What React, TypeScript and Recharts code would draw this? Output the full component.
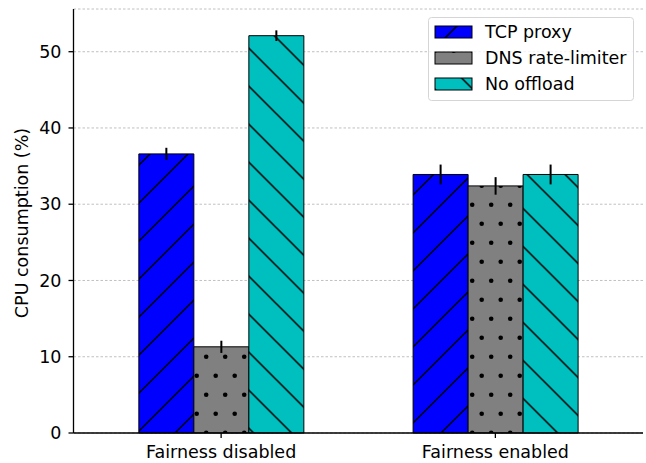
import React from 'react';
import { BarChart, Bar, XAxis, YAxis, CartesianGrid, ErrorBar, Legend } from 'recharts';

const categories = ['Fairness disabled', 'Fairness enabled'];
const tcpProxy = [36.6, 33.9];
const tcpProxyErr = [0.8, 1.3];
const dnsLimiter = [11.3, 32.4];
const dnsLimiterErr = [0.8, 1.15];
const noOffload = [52.1, 33.9];
const noOffloadErr = [0.7, 1.3];
const yTicks = [0, 10, 20, 30, 40, 50];

const seriesInfo = [
  { key: 'tcp', name: 'TCP proxy', fill: 'url(#hatchTcp)' },
  { key: 'dns', name: 'DNS rate-limiter', fill: 'url(#hatchDns)' },
  { key: 'none', name: 'No offload', fill: 'url(#hatchNone)' },
];

const chartData = categories.map((category, i) => ({
  category,
  tcp: tcpProxy[i],
  tcpErr: tcpProxyErr[i],
  dns: dnsLimiter[i],
  dnsErr: dnsLimiterErr[i],
  none: noOffload[i],
  noneErr: noOffloadErr[i],
}));

const FONT = '"DejaVu Sans", sans-serif';
const FS = 17.5;

const Patterns = () => (
  <defs>
    <pattern id="hatchTcp" patternUnits="userSpaceOnUse" width={38} height={38}>
      <rect width={38} height={38} fill="#0000ff" />
      <path d="M0,38 L38,0 M-3,3 L3,-3 M35,41 L41,35" stroke="#000" strokeWidth={1.5} />
    </pattern>
    <pattern id="hatchDns" patternUnits="userSpaceOnUse" width={19} height={38}>
      <rect width={19} height={38} fill="#808080" />
      <circle cx={16.2} cy={14.8} r={2.3} fill="#000" />
      <circle cx={6.7} cy={33.8} r={2.3} fill="#000" />
    </pattern>
    <pattern id="hatchNone" patternUnits="userSpaceOnUse" x={10.6} width={38} height={38}>
      <rect width={38} height={38} fill="#00bfbf" />
      <path d="M0,0 L38,38 M-3,35 L3,41 M35,-3 L41,3" stroke="#000" strokeWidth={1.5} />
    </pattern>
  </defs>
);

const XTick = ({ x, y, payload }: any) => (
  <text x={x} y={y} dy={17.5} textAnchor="middle" fill="#000" fontSize={FS} fontFamily={FONT}>
    {payload.value}
  </text>
);

const YTick = ({ x, y, payload }: any) => (
  <text x={x} y={y} dy={6.2} textAnchor="end" fill="#000" fontSize={FS} fontFamily={FONT}>
    {payload.value}
  </text>
);

const YLabel = ({ viewBox }: any) => {
  const cy = viewBox.y + viewBox.height / 2 + 2;
  return (
    <text
      transform={`translate(28, ${cy}) rotate(-90)`}
      textAnchor="middle"
      fill="#000"
      fontSize={FS}
      fontFamily={FONT}
    >
      CPU consumption (%)
    </text>
  );
};

const LegendBox = () => (
  <svg width={207} height={85} style={{ display: 'block' }}>
    <rect x={0.5} y={0.5} width={205} height={83} rx={3} fill="#fff" fillOpacity={0.8} stroke="#d5d5d5" />
    {seriesInfo.map((s, i) => {
      const cy = 15 + i * 26;
      return (
        <g key={s.key}>
          <rect x={7} y={cy - 6} width={37} height={12} fill={s.fill} stroke="#000" strokeWidth={1} />
          <text x={57} y={cy + 6} fontSize={FS} fontFamily={FONT} fill="#000">
            {s.name}
          </text>
        </g>
      );
    })}
  </svg>
);

export default function App() {
  return (
    <div style={{ position: 'absolute', left: 0, top: 0, width: 646, height: 463, background: '#fff' }}>
      <BarChart
        width={646}
        height={463}
        data={chartData}
        margin={{ top: 9, right: 3, left: 0, bottom: 0 }}
        barCategoryGap="20%"
        barGap={0}
      >
        <Patterns />
        <XAxis
          dataKey="category"
          height={30}
          padding={{ left: 10.5, right: 10.5 }}
          tick={<XTick />}
          tickSize={5}
          axisLine={{ stroke: '#000', strokeWidth: 1.3 }}
          tickLine={{ stroke: '#000', strokeWidth: 1.3 }}
        />
        <YAxis
          width={73.5}
          domain={[0, 55.6]}
          ticks={yTicks}
          tick={<YTick />}
          tickSize={5}
          tickMargin={7}
          axisLine={{ stroke: '#000', strokeWidth: 1.3 }}
          tickLine={{ stroke: '#000', strokeWidth: 1.3 }}
          label={<YLabel />}
        />
        {seriesInfo.map((s) => (
          <Bar
            key={s.key}
            dataKey={s.key}
            name={s.name}
            fill={s.fill}
            stroke="#000"
            strokeWidth={1}
            isAnimationActive={false}
          >
            <ErrorBar dataKey={`${s.key}Err`} width={0} stroke="#000" strokeWidth={2} direction="y" />
          </Bar>
        ))}
        <CartesianGrid vertical={false} stroke="#b0b0b0" strokeWidth={0.8} strokeDasharray="2.5 2" />
        <Legend
          layout="horizontal"
          verticalAlign="middle"
          align="center"
          content={<LegendBox />}
          wrapperStyle={{ position: 'absolute', left: 428, top: 17, width: 207, height: 85 }}
        />
      </BarChart>
    </div>
  );
}
